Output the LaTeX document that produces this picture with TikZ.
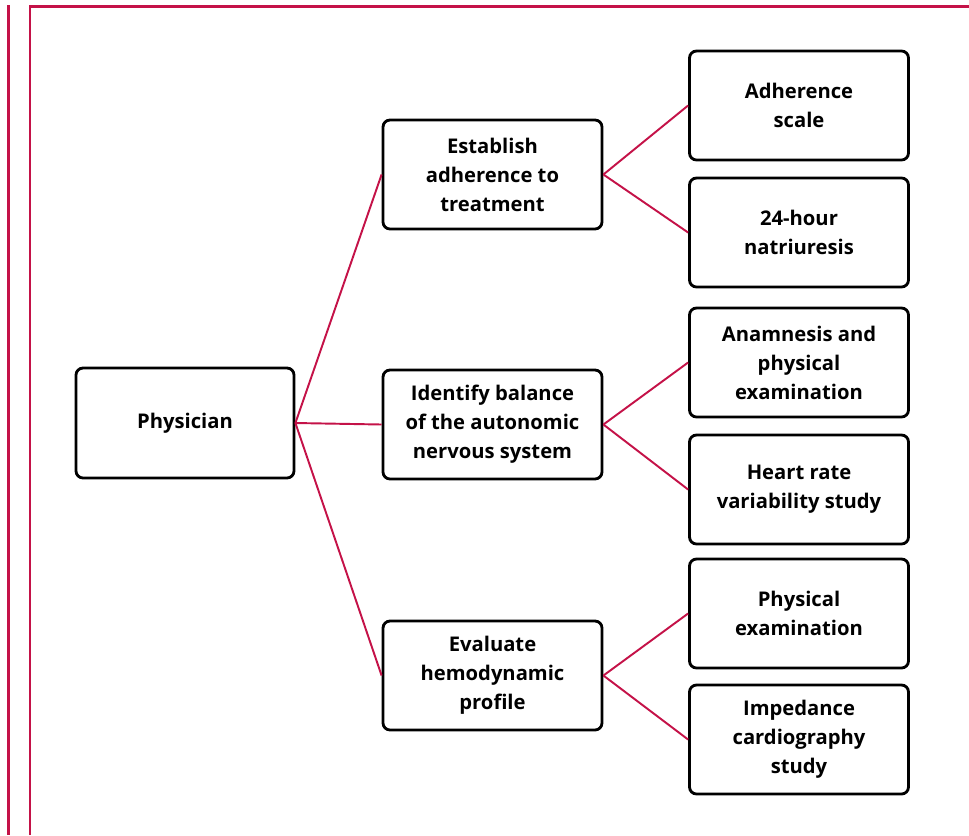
\documentclass[tikz,border=0pt]{standalone}
\usepackage{fontspec}
\setmainfont{Open Sans}
\definecolor{framered}{RGB}{196, 18, 72}
\usetikzlibrary{positioning}
\tikzset{
    stepnode/.style={draw=black, rectangle, rounded corners=4pt, line width=1.6pt, minimum width=4.38cm, minimum height=2.18cm, align=center, font=\fontsize{11.5}{16.5}\selectfont\bfseries},
    rootnode/.style={stepnode, minimum width=4.36cm, minimum height=2.20cm},
    branch/.style={draw=framered, line width=1.1pt},
    frameline/.style={draw=framered, line width=1.6pt},
}
\begin{document}
\begin{tikzpicture}
    \useasboundingbox (0, 0) rectangle (19.38, -16.70);

    % === Frame ===
    \draw[frameline] (0.17, -0.10) -- (0.17, -16.70);
    \draw[frameline] (0.60, -16.70) -- (0.60, -0.13) -- (19.38, -0.13);

    % === Root ===
    \node[rootnode] (physician) at (3.70, -8.46) {Physician};

    % === Goals ===
    \node[stepnode] (adherence) at (9.85, -3.49) {Establish\\adherence to\\treatment};
    \node[stepnode] (autonomic) at (9.85, -8.49) {Identify balance\\of the autonomic\\nervous system};
    \node[stepnode] (hemodynamic) at (9.85, -13.51) {Evaluate\\hemodynamic\\profile};

    % === Tools ===
    \node[stepnode] (scale) at (15.98, -2.11) {Adherence\\scale};
    \node[stepnode] (natriuresis) at (15.98, -4.65) {24-hour\\natriuresis};
    \node[stepnode] (anamnesis) at (15.98, -7.25) {Anamnesis and\\physical\\examination};
    \node[stepnode] (hrv) at (15.98, -9.79) {Heart rate\\variability study};
    \node[stepnode] (physexam) at (15.98, -12.27) {Physical\\examination};
    \node[stepnode] (impedance) at (15.98, -14.79) {Impedance\\cardiography\\study};

    % === Connectors ===
    \foreach \goal in {adherence, autonomic, hemodynamic}
        \draw[branch] (physician.east) -- (\goal.west);
    \draw[branch] (adherence.east) -- (scale.west);
    \draw[branch] (adherence.east) -- (natriuresis.west);
    \draw[branch] (autonomic.east) -- (anamnesis.west);
    \draw[branch] (autonomic.east) -- (hrv.west);
    \draw[branch] (hemodynamic.east) -- (physexam.west);
    \draw[branch] (hemodynamic.east) -- (impedance.west);
\end{tikzpicture}
\end{document}
